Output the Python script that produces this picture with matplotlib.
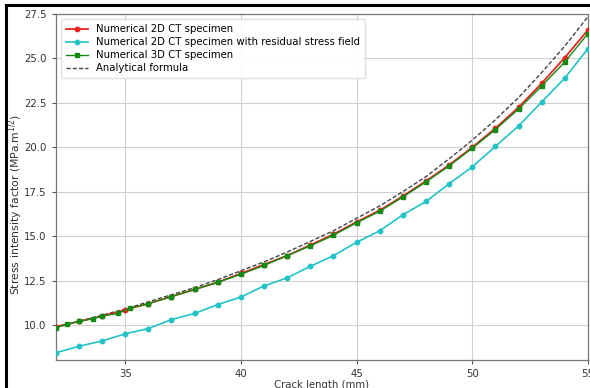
import matplotlib
matplotlib.use("Agg")
import matplotlib.pyplot as plt
from matplotlib.lines import Line2D

# Crack length (mm)
x_int = [32, 33, 34, 35, 36, 37, 38, 39, 40, 41, 42, 43, 44, 45, 46, 47, 48, 49, 50, 51, 52, 53, 54, 55]

k_2d = [9.9, 10.2, 10.5, 10.85, 11.2, 11.6, 12.0, 12.4, 12.9, 13.4, 13.9, 14.5, 15.1, 15.8,
        16.45, 17.25, 18.1, 19.0, 20.0, 21.07, 22.25, 23.6, 25.05, 26.6]

k_2d_rs = [8.43, 8.8, 9.1, 9.5, 9.8, 10.3, 10.65, 11.15, 11.57, 12.2, 12.65, 13.3, 13.9, 14.65,
           15.3, 16.2, 16.95, 17.95, 18.9, 20.05, 21.2, 22.55, 23.9, 25.55]

x_3d = [32, 32.5, 33, 33.6, 34, 34.7, 35.2, 36, 37, 38, 39, 40, 41, 42, 43, 44, 45, 46, 47, 48,
        49, 50, 51, 52, 53, 54, 55]
k_3d = [9.85, 10.05, 10.2, 10.35, 10.5, 10.65, 10.95, 11.2, 11.6, 12.0, 12.4, 12.85, 13.35,
        13.9, 14.45, 15.05, 15.75, 16.4, 17.2, 18.05, 18.95, 19.95, 21.0, 22.15, 23.45, 24.8, 26.4]

k_analytical = [9.85, 10.2, 10.55, 10.9, 11.3, 11.7, 12.1, 12.55, 13.05, 13.55, 14.1, 14.7, 15.3,
                16.0, 16.7, 17.5, 18.35, 19.35, 20.4, 21.55, 22.8, 24.2, 25.7, 27.35]

fs = 7.3
fig = plt.figure(figsize=(5.9, 3.88), dpi=100)
ax = fig.add_axes([0.0944, 0.0722, 0.9022, 0.8917])

ax.plot(x_int, k_2d, color="#e8231f", marker="o", ms=3.2, lw=1.3, label="Numerical 2D CT specimen", zorder=3)
ax.plot(x_int, k_2d_rs, color="#22c3c6", marker="o", ms=3.2, lw=1.2,
        label="Numerical 2D CT specimen with residual stress field", zorder=3)
ax.plot(x_3d, k_3d, color="#138a13", marker="s", ms=3.2, lw=1.0, label="Numerical 3D CT specimen", zorder=4)
ax.plot(x_int, k_analytical, color="#444444", ls="--", lw=1.0, dashes=(3, 1.5), label="Analytical formula", zorder=2)

ax.set_xlim(32, 55)
ax.set_ylim(8.03, 27.5)
ax.set_xticks([35, 40, 45, 50, 55])
ax.set_yticks([10.0, 12.5, 15.0, 17.5, 20.0, 22.5, 25.0, 27.5])
ax.set_yticklabels(["10.0", "12.5", "15.0", "17.5", "20.0", "22.5", "25.0", "27.5"])
ax.tick_params(labelsize=fs, length=3, color="#555555", labelcolor="#333333")
ax.grid(True, color="#d0d0d0", lw=0.8)
for s in ax.spines.values():
    s.set_color("#777777")
    s.set_linewidth(0.9)

ax.set_xlabel("Crack length (mm)", fontsize=fs, color="#333333", labelpad=0.5)
ax.set_ylabel("Stress intensity factor (MPa.m$^{1/2}$)", fontsize=7.8, color="#333333")
ax.yaxis.set_label_coords(-0.058, 0.45)

leg = ax.legend(loc="upper left", fontsize=fs, frameon=True, framealpha=0.9, borderpad=0.5,
                labelspacing=0.3, handlelength=2.2, edgecolor="#dddddd")

# screenshot black frame (left and top edges)
fig.add_artist(Line2D([0.0095, 0.0095], [0, 0.987], color="black", lw=2.2, transform=fig.transFigure))
fig.add_artist(Line2D([0.0095, 1.0], [0.987, 0.987], color="black", lw=2.2, transform=fig.transFigure))

fig.savefig("out.png", dpi=100)
